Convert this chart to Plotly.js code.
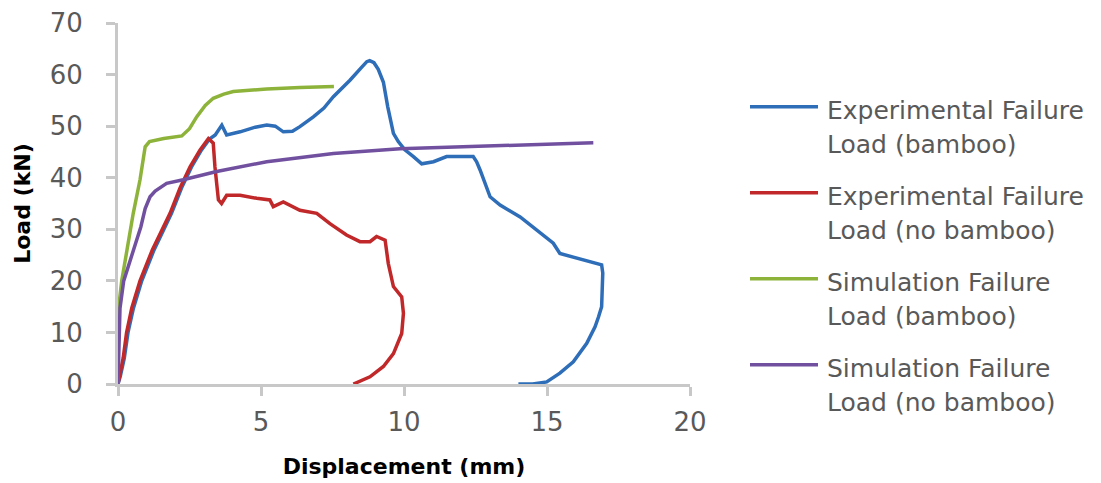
<!DOCTYPE html>
<html>
<head>
<meta charset="utf-8">
<script src="https://cdn.plot.ly/plotly-3.0.1.min.js"></script>
<style>html,body{margin:0;padding:0;background:#fff;}#chart{width:1101px;height:483px;}</style>
</head>
<body>
<div id="chart"></div>
<script>
// ---- data ----
const seriesNames = [
  'Experimental Failure<br>Load (bamboo)',
  'Experimental Failure<br>Load (no bamboo)',
  'Simulation Failure<br>Load (bamboo)',
  'Simulation Failure<br>Load (no bamboo)'
];
const seriesColors = ['#2e6db8', '#c0282a', '#8db33a', '#7150a0'];

const expBambooX = [0, 0.08, 0.22, 0.35, 0.54, 0.83, 1.26, 1.87, 2.22, 2.57, 2.92, 3.2, 3.4, 3.63, 3.8, 4.27, 4.8, 5.2, 5.5, 5.78, 6.1, 6.36, 6.83, 7.2, 7.53, 8.11, 8.5, 8.7, 8.8, 8.95, 9.1, 9.28, 9.43, 9.63, 9.8, 10.03, 10.33, 10.62, 11.03, 11.49, 12.0, 12.42, 12.54, 12.66, 13.01, 13.36, 14.06, 14.76, 15.22, 15.45, 15.9, 16.39, 16.91, 16.95, 16.93, 16.91, 16.8, 16.68, 16.39, 15.92, 15.45, 14.99, 14.5, 14.0];
const expBambooY = [0, 1.5, 5, 10, 14.7, 20, 26, 33.1, 38, 42.1, 45.4, 47.5, 48.3, 50.2, 48.3, 48.9, 49.8, 50.2, 50, 48.9, 49, 49.9, 51.8, 53.5, 55.7, 58.9, 61.3, 62.5, 62.7, 62.3, 61, 58.5, 53.8, 48.6, 47, 45.4, 44.1, 42.7, 43.1, 44.1, 44.1, 44.1, 43.1, 41.5, 36.3, 34.7, 32.4, 29.2, 27.3, 25.3, 24.6, 24.0, 23.1, 21.5, 18, 15.0, 13, 11.1, 7.9, 4.3, 2.1, 0.4, 0, 0];

const expNoBambooX = [0, 0.05, 0.18, 0.3, 0.48, 0.77, 1.2, 1.82, 2.17, 2.52, 2.87, 3.16, 3.33, 3.39, 3.51, 3.62, 3.8, 4.27, 4.85, 5.31, 5.43, 5.78, 6.36, 6.95, 7.41, 7.99, 8.46, 8.81, 9.04, 9.34, 9.45, 9.63, 9.92, 9.98, 9.92, 9.63, 9.28, 8.81, 8.23];
const expNoBambooY = [0, 1.5, 5, 10, 14.7, 20, 26, 33.1, 38, 42.1, 45.4, 47.6, 46.7, 42.1, 35.7, 35, 36.6, 36.6, 36, 35.7, 34.4, 35.3, 33.7, 33.1, 31.1, 28.9, 27.6, 27.6, 28.6, 27.9, 23.4, 18.9, 16.9, 13.7, 9.8, 5.9, 3.4, 1.4, 0];

const simBambooX = [0, 0.02, 0.13, 0.35, 0.53, 0.77, 0.95, 1.1, 1.6, 2.23, 2.5, 2.75, 3.05, 3.33, 3.7, 4.03, 4.6, 5.2, 6.36, 7.55];
const simBambooY = [0, 14.7, 20, 27, 33, 39.6, 46, 47, 47.6, 48.1, 49.5, 51.8, 54, 55.4, 56.2, 56.7, 57, 57.2, 57.5, 57.7];

const simNoBambooX = [0, 0.04, 0.07, 0.2, 0.4, 0.6, 0.8, 0.95, 1.12, 1.3, 1.7, 2.28, 3.45, 5.2, 7.53, 9.86, 12.5, 14.5, 16.62];
const simNoBambooY = [0, 10, 14.7, 20, 23.5, 27, 30.5, 34, 36.3, 37.4, 38.9, 39.6, 41.2, 43.1, 44.7, 45.6, 46.1, 46.4, 46.8];

const xTickVals = [0, 5, 10, 15, 20];
const yTickVals = [0, 10, 20, 30, 40, 50, 60, 70];
const xTitle = 'Displacement (mm)';
const yTitle = 'Load (kN)';

// ---- layout helpers ----
const W = 1101, H = 483;
const M = {l: 118, r: 411, t: 23, b: 99};
const pw = W - M.l - M.r, ph = H - M.t - M.b;
const px = v => (v - M.l) / pw;
const py = v => (H - M.b - v) / ph;

const xs = [expBambooX, expNoBambooX, simBambooX, simNoBambooX];
const ys = [expBambooY, expNoBambooY, simBambooY, simNoBambooY];

const traces = xs.map((x, i) => ({
  type: 'scatter', mode: 'lines', x: x, y: ys[i],
  name: seriesNames[i].replace('<br>', ' '),
  line: {color: seriesColors[i], width: 3.5, shape: 'linear'},
  showlegend: false, hoverinfo: 'skip'
}));

const shapes = [];
const annotations = [];
const legTop = 106.7, legStep = 86;
seriesNames.forEach((nm, i) => {
  const yl = legTop + i * legStep;
  shapes.push({type: 'line', xref: 'paper', yref: 'paper',
    x0: px(750), x1: px(818), y0: py(yl), y1: py(yl),
    line: {color: seriesColors[i], width: 3.5}});
  nm.split('<br>').forEach((part, j) => {
    annotations.push({xref: 'paper', yref: 'paper', x: px(825), y: py(yl + 3.5 + j * 34),
      xanchor: 'left', yanchor: 'middle', showarrow: false, text: part,
      font: {family: 'DejaVu Sans', size: 25, color: '#595959'}});
  });
});

const axisCommon = {
  showgrid: false, zeroline: false, showline: true,
  linecolor: '#c8c8c8', linewidth: 3,
  ticks: 'outside', ticklen: 9, tickwidth: 3, tickcolor: '#c8c8c8',
  tickfont: {family: 'DejaVu Sans', size: 26, color: '#595959'},
  fixedrange: true
};

const layout = {
  width: W, height: H,
  margin: M,
  paper_bgcolor: '#ffffff', plot_bgcolor: '#ffffff',
  showlegend: false,
  xaxis: Object.assign({}, axisCommon, {
    range: [0, 20], tickvals: xTickVals, ticktext: xTickVals.map(String),
    ticklabelstandoff: 4,
    title: {text: xTitle, font: {family: 'DejaVu Sans', size: 22, color: '#000', weight: 'bold'}, standoff: 23}
  }),
  yaxis: Object.assign({}, axisCommon, {
    range: [0, 70], tickvals: yTickVals, ticktext: yTickVals.map(String),
    ticklabelstandoff: 18,
    title: {text: yTitle, font: {family: 'DejaVu Sans', size: 22, color: '#000', weight: 'bold'}, standoff: 14}
  }),
  shapes: shapes,
  annotations: annotations
};

Plotly.newPlot('chart', traces, layout, {displayModeBar: false, staticPlot: true});
</script>
</body>
</html>
